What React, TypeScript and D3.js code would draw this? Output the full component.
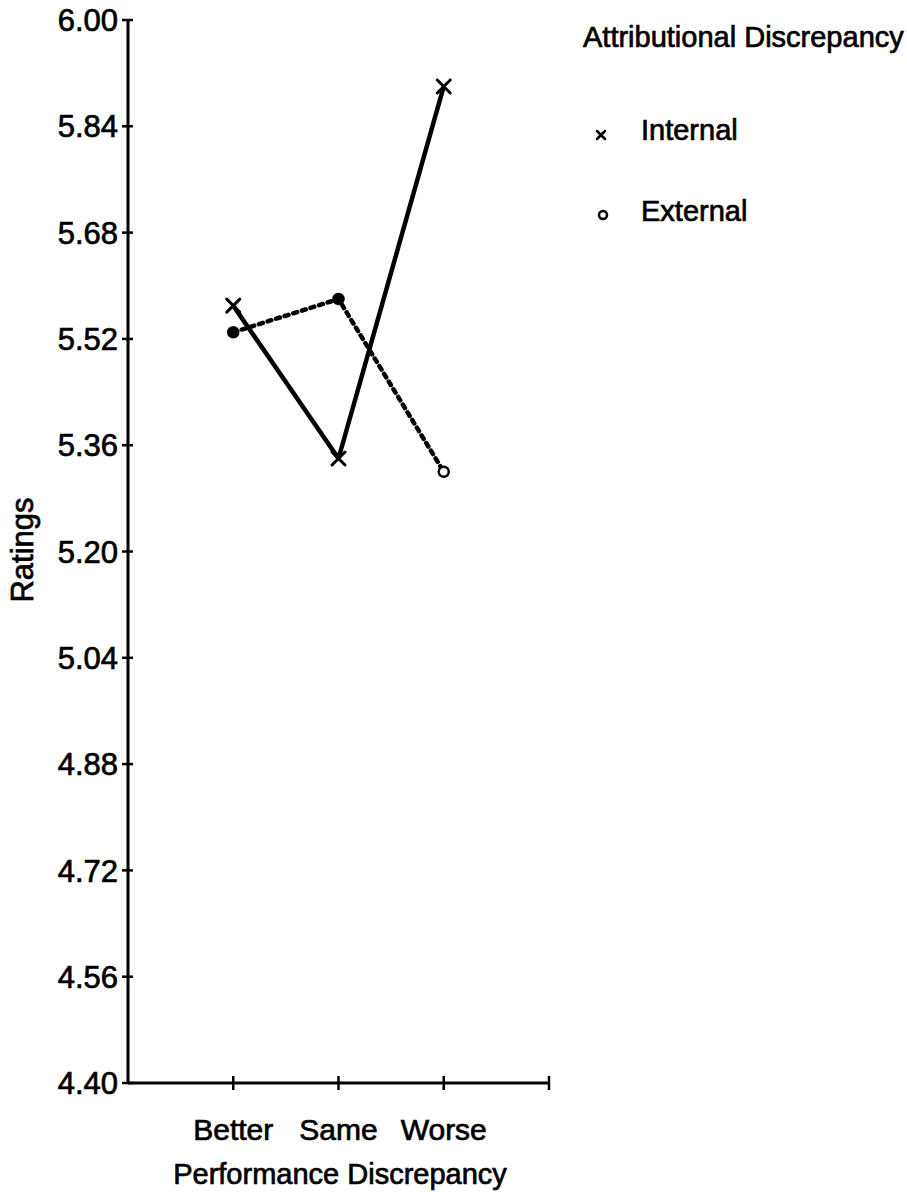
import React from "react";
import * as d3 from "d3";

const categories = ["Better", "Same", "Worse"];
const internalValues = [5.57, 5.34, 5.9];
const externalValues = [5.53, 5.58, 5.32];
const yTicks = [6.0, 5.84, 5.68, 5.52, 5.36, 5.2, 5.04, 4.88, 4.72, 4.56, 4.4];
const xTicks = [1, 2, 3, 4];
const legendTitle = "Attributional Discrepancy";
const seriesNames = ["Internal", "External"];

const W = 907;
const H = 1196;
const FONT = "'Liberation Sans', Arial, sans-serif";

// plotter-style lettering: a thin outline thickens the glyphs
const textStyle = {
  fontFamily: FONT,
  fill: "#000",
  stroke: "#000",
  strokeWidth: 0.7,
};

export default function App() {
  const x = d3.scaleLinear().domain([0, 4]).range([128, 549]);
  const y = d3.scaleLinear().domain([4.4, 6.0]).range([1083, 20]);

  const line = d3
    .line<number>()
    .x((_, i) => x(i + 1))
    .y((d) => y(d));

  const xMark = (cx: number, cy: number, s: number, key: string, sw = 3) => (
    <g key={key} stroke="#000" strokeWidth={sw} strokeLinecap="round">
      <line x1={cx - s} y1={cy - s} x2={cx + s} y2={cy + s} />
      <line x1={cx - s} y1={cy + s} x2={cx + s} y2={cy - s} />
    </g>
  );

  return (
    <svg
      width={W}
      height={H}
      viewBox={`0 0 ${W} ${H}`}
      style={{ position: "absolute", left: 0, top: 0, background: "#fff" }}
    >
      <rect x={0} y={0} width={W} height={H} fill="#fff" />

      {/* axes */}
      <line x1={x(0)} y1={y(6.0)} x2={x(0)} y2={y(4.4)} stroke="#000" strokeWidth={3} />
      <line x1={x(0)} y1={y(4.4)} x2={x(4)} y2={y(4.4)} stroke="#000" strokeWidth={3} />

      {/* y ticks and labels */}
      {yTicks.map((t) => (
        <g key={`yt-${t}`}>
          <line x1={x(0) - 6} x2={x(0) + 5} y1={y(t)} y2={y(t)} stroke="#000" strokeWidth={2.5} />
          <text x={118} y={y(t)} dy="0.36em" textAnchor="end" fontSize={31} style={textStyle}>
            {t.toFixed(2)}
          </text>
        </g>
      ))}

      {/* x ticks */}
      {xTicks.map((t) => (
        <line
          key={`xt-${t}`}
          x1={x(t)}
          x2={x(t)}
          y1={y(4.4) - 7}
          y2={y(4.4) + 7}
          stroke="#000"
          strokeWidth={2.5}
        />
      ))}

      {/* category labels */}
      {categories.map((c, i) => (
        <text
          key={`cat-${c}`}
          x={x(i + 1)}
          y={1140}
          textAnchor="middle"
          fontSize={30}
          style={textStyle}
        >
          {c}
        </text>
      ))}

      <text x={340} y={1184} textAnchor="middle" fontSize={29} style={textStyle}>
        Performance Discrepancy
      </text>

      <text
        transform={`translate(33, 550) rotate(-90)`}
        textAnchor="middle"
        fontSize={31}
        style={textStyle}
      >
        Ratings
      </text>

      {/* series lines */}
      <path
        d={line(internalValues) || ""}
        fill="none"
        stroke="#000"
        strokeWidth={4.5}
        strokeLinejoin="round"
      />
      <path
        d={line(externalValues) || ""}
        fill="none"
        stroke="#000"
        strokeWidth={4.5}
        strokeDasharray="4 5"
        strokeLinecap="round"
      />

      {/* markers */}
      {internalValues.map((v, i) => xMark(x(i + 1), y(v), 6.5, `im-${i}`))}
      {externalValues.map((v, i) => (
        <circle
          key={`em-${i}`}
          cx={x(i + 1)}
          cy={y(v)}
          r={5}
          fill={i < 2 ? "#000" : "#fff"}
          stroke="#000"
          strokeWidth={2.5}
        />
      ))}

      {/* legend */}
      <text x={583} y={47} fontSize={29} style={textStyle}>
        {legendTitle}
      </text>
      {xMark(601, 135, 4, "lg-x", 2.5)}
      <text x={641} y={140} fontSize={29} style={textStyle}>
        {seriesNames[0]}
      </text>
      <circle cx={603} cy={215} r={4} fill="#fff" stroke="#000" strokeWidth={2.5} />
      <text x={641} y={221} fontSize={29} style={textStyle}>
        {seriesNames[1]}
      </text>
    </svg>
  );
}
